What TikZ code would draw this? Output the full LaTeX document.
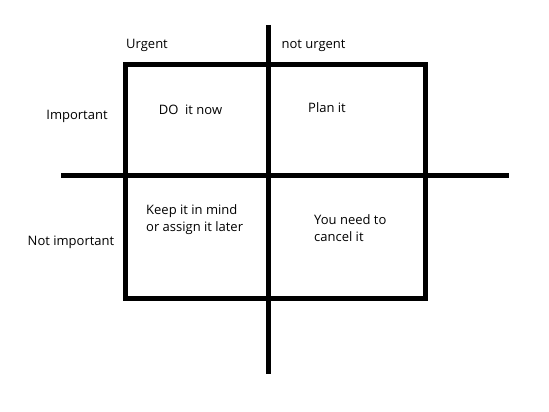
\documentclass[tikz,border=0pt]{standalone}
\usepackage{fontspec}
\setmainfont{Open Sans}
\usepackage{tikz}
\usetikzlibrary{positioning}

\tikzset{
    bar/.style={line width=5pt},
    label/.style={anchor=base, inner sep=0pt},
    cell/.style={anchor=base west, inner sep=0pt, align=left,
        font=\fontsize{13}{17.5}\selectfont}
}

\begin{document}
\begin{tikzpicture}[x=1pt, y=-1pt, font=\fontsize{13}{17.5}\selectfont]
    \useasboundingbox [fill=white] (0,0) rectangle (549,412);

    % Box and axes
    \draw [bar] (125.5,65) rectangle (425.5,298.5);
    \draw [bar] (268.5,25) -- (268.5,374);
    \draw [bar] (61,175.5) -- (509,175.5);

    % Column and row labels
    \node [label] (urgent) at (147,49) {Urgent};
    \node [label] (noturgent) at (313.5,49) {not urgent};
    \node [label] (important) at (77,119) {Important};
    \node [label] (notimportant) at (71,245) {Not important};

    % Quadrants (base = last line)
    \node [label] (doit) at (190.5,114) {DO\ \ it now};
    \node [label] (planit) at (327,113) {Plan it};
    \node [cell] (keepit) at (146,231.7) {Keep it in mind\\or assign it later};
    \node [cell] (cancelit) at (314,241.7) {You need to\\cancel it};
\end{tikzpicture}
\end{document}
